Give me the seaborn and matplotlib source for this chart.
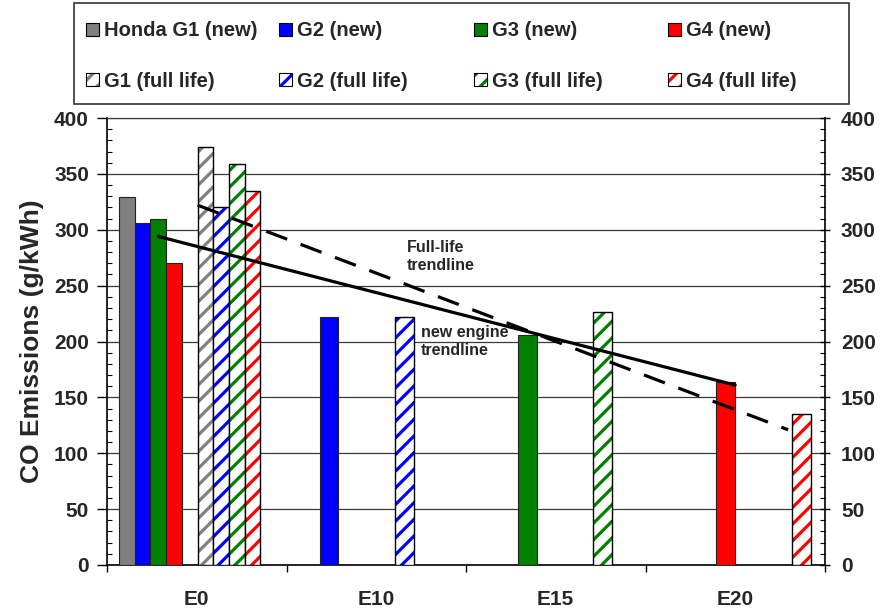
import numpy as np
import pandas as pd
import matplotlib
matplotlib.use("Agg")
import matplotlib.pyplot as plt
from matplotlib.patches import Patch, Rectangle
from matplotlib.ticker import MultipleLocator, FixedLocator, NullFormatter, FixedFormatter
import seaborn as sns

# Dados
nan = np.nan
groups = ["E0", "E10", "E15", "E20"]
new_labels = ["Honda G1 (new)", "G2 (new)", "G3 (new)", "G4 (new)"]
full_labels = ["G1 (full life)", "G2 (full life)", "G3 (full life)", "G4 (full life)"]
colors = ["#808080", "#0000FF", "#008000", "#FF0000"]

g1_new = [329, nan, nan, nan]
g2_new = [306, 222, nan, nan]
g3_new = [310, nan, 206, nan]
g4_new = [270, nan, nan, 164]

g1_full = [374, nan, nan, nan]
g2_full = [320, 222, nan, nan]
g3_full = [359, nan, 226, nan]
g4_full = [335, nan, nan, 135]

trend_new = [294, 161]
trend_full = [322, 121]

new_vals = [g1_new, g2_new, g3_new, g4_new]
full_vals = [g1_full, g2_full, g3_full, g4_full]

# Estilo
sns.set_theme(style="white")
plt.rcParams["font.family"] = ["Liberation Sans", "DejaVu Sans"]
plt.rcParams["font.weight"] = "bold"
plt.rcParams["hatch.linewidth"] = 2.3


def slot(g, k):
    # E0 tem 8 barras (com um espaço), os outros grupos só 2
    if g == 0:
        w = 0.0875
        return g + 0.111 + w * k, w
    w = 0.105
    return g + 0.132 + w * k, w


fig = plt.figure(figsize=(8.85, 6.13), dpi=100)
ax = fig.add_axes([107 / 885, 48 / 613, 718 / 885, 447 / 613])

for i in range(4):
    for g in range(4):
        v = new_vals[i][g]
        if not np.isnan(v):
            x, w = slot(g, i)
            ax.bar(x, v, w, color=colors[i], edgecolor="#222222", linewidth=0.8, zorder=3)
        v = full_vals[i][g]
        if not np.isnan(v):
            x, w = slot(g, i + (5 if g == 0 else 4))
            ax.bar(x, v, w, color="white", edgecolor=colors[i], hatch="//", linewidth=0, zorder=3)
            ax.bar(x, v, w, fill=False, edgecolor="black", linewidth=1.0, zorder=3)

# Linhas de tendência
x0_new = slot(0, 2)[0]
x1_new = slot(3, 3)[0] + slot(3, 3)[1] / 2
x0_full = slot(0, 5)[0] - slot(0, 5)[1] / 2
x1_full = slot(3, 7)[0] - slot(3, 7)[1] / 2 - 0.02
df_new = pd.DataFrame({"x": [x0_new, x1_new], "y": trend_new})
df_full = pd.DataFrame({"x": [x0_full, x1_full], "y": trend_full})
sns.lineplot(data=df_new, x="x", y="y", ax=ax, color="black", linewidth=2.3, zorder=4)
sns.lineplot(data=df_full, x="x", y="y", ax=ax, color="black", linewidth=2.3,
             linestyle=(0, (7, 4.5)), zorder=4)

ax.text(1.67, 276, "Full-life\ntrendline", fontsize=11.5, fontweight="bold",
        va="center", ha="left", linespacing=1.3, zorder=5)
ax.text(1.75, 200, "new engine\ntrendline", fontsize=11.5, fontweight="bold",
        va="center", ha="left", linespacing=1.3, zorder=5)

# Eixos
ax.set_xlim(0, 4)
ax.set_ylim(0, 400)
ax.xaxis.set_major_locator(FixedLocator([0, 1, 2, 3, 4]))
ax.xaxis.set_major_formatter(NullFormatter())
ax.xaxis.set_minor_locator(FixedLocator([0.5, 1.5, 2.5, 3.5]))
ax.xaxis.set_minor_formatter(FixedFormatter(groups))
ax.tick_params(axis="x", which="major", direction="out", length=5, width=1, color="black", bottom=True)
ax.tick_params(axis="x", which="minor", length=0, pad=18, labelsize=15, bottom=True)
for lab in ax.get_xticklabels(minor=True):
    lab.set_fontweight("bold")

ax.yaxis.set_major_locator(MultipleLocator(50))
ax.yaxis.set_minor_locator(MultipleLocator(10))
ax.tick_params(axis="y", which="major", direction="out", length=7, width=1, color="black",
               labelsize=15, pad=6, left=True)
ax.tick_params(axis="y", which="minor", direction="in", length=3.5, width=0.8, color="black", left=True)
ax.set_ylabel("CO Emissions (g/kWh)", fontsize=19, fontweight="bold", labelpad=7)
ax.set_xlabel("")
ax.yaxis.grid(True, color="#3a3a3a", linewidth=0.9, zorder=0)
ax.set_axisbelow(True)

for s in ["left", "bottom", "right"]:
    ax.spines[s].set_color("black")
    ax.spines[s].set_linewidth(1.2)
ax.spines["top"].set_color("#3a3a3a")
ax.spines["top"].set_linewidth(0.9)

ax2 = ax.twinx()
ax2.set_ylim(0, 400)
ax2.yaxis.set_major_locator(MultipleLocator(50))
ax2.yaxis.set_minor_locator(MultipleLocator(10))
ax2.tick_params(axis="y", which="major", direction="inout", length=7, width=1, color="black",
                labelsize=15, pad=8, right=True)
ax2.tick_params(axis="y", which="minor", direction="in", length=3.5, width=0.8, color="black", right=True)
ax2.grid(False)
for s in ax2.spines.values():
    s.set_visible(False)

# Legenda: 4 colunas, cada uma com 2 entradas
fig.add_artist(Rectangle((74 / 885, 1 - 104 / 613), 775 / 885, 101 / 613,
                         transform=fig.transFigure, fill=False, edgecolor="#333333", linewidth=1.2))
col_x = [86, 279, 474, 668]
for i in range(4):
    h_new = Patch(facecolor=colors[i], edgecolor="black", linewidth=0.8)
    h_full = (Patch(facecolor="white", edgecolor=colors[i], hatch="//", linewidth=0),
              Patch(fill=False, edgecolor="black", linewidth=0.8))
    fig.legend([h_new, h_full], [new_labels[i], full_labels[i]],
               loc="center left", bbox_to_anchor=(col_x[i] / 885, 1 - 56 / 613),
               frameon=False, borderpad=0, borderaxespad=0,
               handlelength=0.65, handleheight=0.65, handletextpad=0.25,
               labelspacing=1.55, prop={"size": 14.5, "weight": "bold"})

fig.savefig("out.png", dpi=100)
